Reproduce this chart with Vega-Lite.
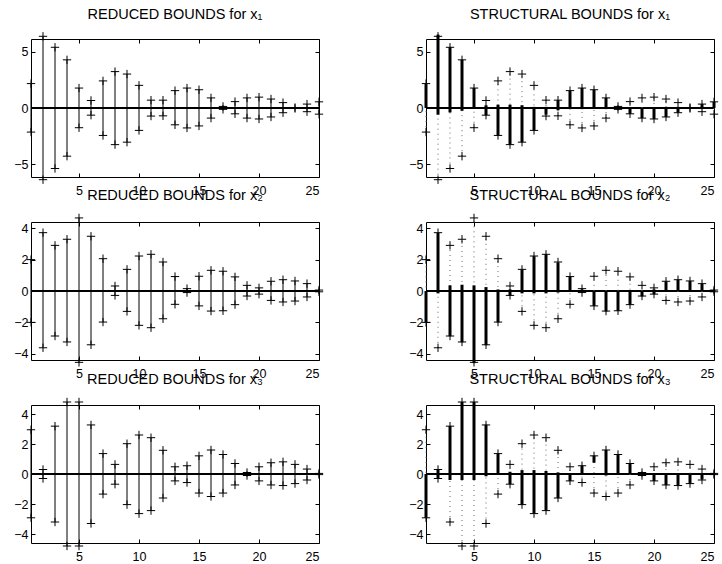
{
"$schema": "https://vega.github.io/schema/vega-lite/v6.json",
"padding": {"left": 13, "top": 6, "right": 2, "bottom": 2},
"background": "white",
"config": {
  "view": {"stroke": "black", "strokeWidth": 1},
  "axis": {"domain": false, "grid": false, "tickSize": -4, "tickColor": "black", "labelPadding": 7, "labelFont": "Liberation Sans", "labelFontSize": 12.5, "labelColor": "black", "title": null},
  "axisBottom": {"labelPadding": 11},
  "title": {"font": "Liberation Sans", "fontSize": 14.5, "fontWeight": "normal", "color": "black", "baseline": "alphabetic", "offset": 8, "anchor": "middle", "frame": "group"}
},
"datasets": {"d": [
{"v":"x1","k":1,"rl":-2.15,"ru":2.18,"sl":0,"su":2.15},
{"v":"x1","k":2,"rl":-6.4,"ru":6.4,"sl":-0.6,"su":6.55},
{"v":"x1","k":3,"rl":-5.4,"ru":5.42,"sl":-0.4,"su":5.42},
{"v":"x1","k":4,"rl":-4.3,"ru":4.3,"sl":-0.25,"su":4.3},
{"v":"x1","k":5,"rl":-1.76,"ru":1.78,"sl":0,"su":1.78},
{"v":"x1","k":6,"rl":-0.64,"ru":0.67,"sl":-0.65,"su":0.25},
{"v":"x1","k":7,"rl":-2.45,"ru":2.42,"sl":-2.45,"su":0.3},
{"v":"x1","k":8,"rl":-3.27,"ru":3.25,"sl":-3.27,"su":0.3},
{"v":"x1","k":9,"rl":-3.05,"ru":3.03,"sl":-3.05,"su":0.25},
{"v":"x1","k":10,"rl":-2.0,"ru":2.02,"sl":-2.0,"su":0.1},
{"v":"x1","k":11,"rl":-0.72,"ru":0.7,"sl":-0.6,"su":0.1},
{"v":"x1","k":12,"rl":-0.7,"ru":0.7,"sl":-0.2,"su":0.7},
{"v":"x1","k":13,"rl":-1.5,"ru":1.55,"sl":0,"su":1.55},
{"v":"x1","k":14,"rl":-1.78,"ru":1.78,"sl":-0.1,"su":1.78},
{"v":"x1","k":15,"rl":-1.6,"ru":1.63,"sl":0,"su":1.63},
{"v":"x1","k":16,"rl":-0.9,"ru":0.9,"sl":-0.1,"su":0.9},
{"v":"x1","k":17,"rl":-0.12,"ru":0.14,"sl":-0.12,"su":0.14},
{"v":"x1","k":18,"rl":-0.52,"ru":0.57,"sl":-0.52,"su":0.05},
{"v":"x1","k":19,"rl":-0.9,"ru":0.9,"sl":-0.9,"su":0},
{"v":"x1","k":20,"rl":-0.98,"ru":0.97,"sl":-0.98,"su":0},
{"v":"x1","k":21,"rl":-0.8,"ru":0.8,"sl":-0.8,"su":0},
{"v":"x1","k":22,"rl":-0.42,"ru":0.48,"sl":-0.4,"su":0.1},
{"v":"x1","k":23,"rl":-0.04,"ru":0.04,"sl":-0.04,"su":0.04},
{"v":"x1","k":24,"rl":-0.33,"ru":0.35,"sl":-0.1,"su":0.35},
{"v":"x1","k":25,"rl":-0.55,"ru":0.55,"sl":0,"su":0.55},
{"v":"x2","k":1,"rl":-2.0,"ru":2.0,"sl":-2.0,"su":0},
{"v":"x2","k":2,"rl":-3.62,"ru":3.72,"sl":-0.15,"su":3.7},
{"v":"x2","k":3,"rl":-2.87,"ru":2.91,"sl":-2.88,"su":0.36},
{"v":"x2","k":4,"rl":-3.25,"ru":3.3,"sl":-3.27,"su":0.4},
{"v":"x2","k":5,"rl":-4.55,"ru":4.66,"sl":-4.6,"su":0.36},
{"v":"x2","k":6,"rl":-3.43,"ru":3.49,"sl":-3.45,"su":0.25},
{"v":"x2","k":7,"rl":-1.98,"ru":2.06,"sl":-2.0,"su":0.1},
{"v":"x2","k":8,"rl":-0.28,"ru":0.32,"sl":-0.3,"su":0.1},
{"v":"x2","k":9,"rl":-1.3,"ru":1.38,"sl":-0.15,"su":1.36},
{"v":"x2","k":10,"rl":-2.19,"ru":2.23,"sl":-0.15,"su":2.22},
{"v":"x2","k":11,"rl":-2.34,"ru":2.34,"sl":-0.15,"su":2.34},
{"v":"x2","k":12,"rl":-1.77,"ru":1.85,"sl":-0.1,"su":1.82},
{"v":"x2","k":13,"rl":-0.85,"ru":0.92,"sl":0,"su":0.9},
{"v":"x2","k":14,"rl":-0.1,"ru":0.15,"sl":-0.1,"su":0.1},
{"v":"x2","k":15,"rl":-0.95,"ru":0.94,"sl":-0.95,"su":0},
{"v":"x2","k":16,"rl":-1.28,"ru":1.32,"sl":-1.3,"su":0},
{"v":"x2","k":17,"rl":-1.26,"ru":1.26,"sl":-1.26,"su":0},
{"v":"x2","k":18,"rl":-0.87,"ru":0.9,"sl":-0.88,"su":0},
{"v":"x2","k":19,"rl":-0.32,"ru":0.36,"sl":-0.34,"su":0},
{"v":"x2","k":20,"rl":-0.2,"ru":0.2,"sl":-0.2,"su":0.1},
{"v":"x2","k":21,"rl":-0.6,"ru":0.62,"sl":0,"su":0.61},
{"v":"x2","k":22,"rl":-0.7,"ru":0.72,"sl":0,"su":0.71},
{"v":"x2","k":23,"rl":-0.64,"ru":0.64,"sl":0,"su":0.64},
{"v":"x2","k":24,"rl":-0.38,"ru":0.47,"sl":0,"su":0.45},
{"v":"x2","k":25,"rl":-0.05,"ru":0.06,"sl":-0.05,"su":0.06},
{"v":"x3","k":1,"rl":-2.92,"ru":2.95,"sl":-2.92,"su":0},
{"v":"x3","k":2,"rl":-0.3,"ru":0.3,"sl":-0.3,"su":0.3},
{"v":"x3","k":3,"rl":-3.2,"ru":3.19,"sl":-0.4,"su":3.2},
{"v":"x3","k":4,"rl":-4.8,"ru":4.8,"sl":-0.4,"su":4.8},
{"v":"x3","k":5,"rl":-4.8,"ru":4.8,"sl":-0.4,"su":4.8},
{"v":"x3","k":6,"rl":-3.3,"ru":3.27,"sl":-0.15,"su":3.28},
{"v":"x3","k":7,"rl":-1.34,"ru":1.36,"sl":0,"su":1.36},
{"v":"x3","k":8,"rl":-0.68,"ru":0.64,"sl":-0.67,"su":0.15},
{"v":"x3","k":9,"rl":-2.04,"ru":2.02,"sl":-2.04,"su":0.26},
{"v":"x3","k":10,"rl":-2.64,"ru":2.6,"sl":-2.63,"su":0.26},
{"v":"x3","k":11,"rl":-2.44,"ru":2.42,"sl":-2.43,"su":0.2},
{"v":"x3","k":12,"rl":-1.6,"ru":1.58,"sl":-1.6,"su":0.1},
{"v":"x3","k":13,"rl":-0.46,"ru":0.48,"sl":-0.47,"su":0},
{"v":"x3","k":14,"rl":-0.57,"ru":0.55,"sl":0,"su":0.56},
{"v":"x3","k":15,"rl":-1.27,"ru":1.21,"sl":0.75,"su":1.22},
{"v":"x3","k":16,"rl":-1.5,"ru":1.6,"sl":-0.1,"su":1.6},
{"v":"x3","k":17,"rl":-1.27,"ru":1.3,"sl":0,"su":1.3},
{"v":"x3","k":18,"rl":-0.73,"ru":0.7,"sl":0,"su":0.72},
{"v":"x3","k":19,"rl":-0.1,"ru":0.1,"sl":-0.1,"su":0.1},
{"v":"x3","k":20,"rl":-0.46,"ru":0.48,"sl":-0.47,"su":0},
{"v":"x3","k":21,"rl":-0.73,"ru":0.75,"sl":-0.74,"su":0},
{"v":"x3","k":22,"rl":-0.77,"ru":0.81,"sl":-0.79,"su":0},
{"v":"x3","k":23,"rl":-0.64,"ru":0.64,"sl":-0.64,"su":0},
{"v":"x3","k":24,"rl":-0.4,"ru":0.33,"sl":-0.36,"su":0},
{"v":"x3","k":25,"rl":-0.04,"ru":0.04,"sl":-0.04,"su":0.04}
]},
"columns": 2,
"bounds": "flush",
"spacing": {"row": 45, "column": 107},
"concat": [
{"width": 288, "height": 138, "title": "REDUCED BOUNDS for x₁", "data": {"name": "d"}, "transform": [{"filter": "datum.v == 'x1'"}],
 "layer": [
  {"mark": {"type": "rule", "color": "black", "strokeWidth": 1.5}, "encoding": {"y": {"datum": 0, "type": "quantitative", "scale": {"domain": [-6.16, 6.16], "nice": false, "zero": false}, "axis": {"orient": "left", "values": [-5, 0, 5]}}}},
  {"mark": {"type": "rule", "color": "black", "strokeWidth": 1}, "encoding": {"x": {"field": "k", "type": "quantitative", "scale": {"domain": [1, 25], "nice": false, "zero": false}, "axis": {"orient": "bottom", "values": [5, 10, 15, 20, 25]}}, "y": {"field": "rl", "type": "quantitative", "scale": {"domain": [-6.16, 6.16], "nice": false, "zero": false}, "axis": {"orient": "right", "labels": false, "values": [-5, 0, 5]}}, "y2": {"field": "ru"}}},
  {"mark": {"type": "point", "shape": "M-1,0L1,0M0,-1L0,1", "filled": false, "stroke": "black", "strokeWidth": 1, "size": 70, "opacity": 1}, "encoding": {"x": {"field": "k", "type": "quantitative", "scale": {"domain": [1, 25], "nice": false, "zero": false}, "axis": {"orient": "top", "labels": false, "values": [5, 10, 15, 20, 25]}}, "y": {"field": "ru", "type": "quantitative", "scale": {"domain": [-6.16, 6.16], "nice": false, "zero": false}, "axis": null}}},
  {"mark": {"type": "point", "shape": "M-1,0L1,0M0,-1L0,1", "filled": false, "stroke": "black", "strokeWidth": 1, "size": 70, "opacity": 1}, "encoding": {"x": {"field": "k", "type": "quantitative", "axis": null}, "y": {"field": "rl", "type": "quantitative", "axis": null}}}
 ]},
{"width": 288, "height": 138, "title": "STRUCTURAL BOUNDS for x₁", "data": {"name": "d"}, "transform": [{"filter": "datum.v == 'x1'"}],
 "layer": [
  {"mark": {"type": "rule", "color": "black", "strokeWidth": 1.5}, "encoding": {"y": {"datum": 0, "type": "quantitative", "scale": {"domain": [-6.16, 6.16], "nice": false, "zero": false}, "axis": {"orient": "left", "values": [-5, 0, 5]}}}},
  {"mark": {"type": "rule", "color": "#666666", "strokeWidth": 1, "strokeDash": [1, 4]}, "encoding": {"x": {"field": "k", "type": "quantitative", "scale": {"domain": [1, 25], "nice": false, "zero": false}, "axis": {"orient": "bottom", "values": [5, 10, 15, 20, 25]}}, "y": {"field": "rl", "type": "quantitative", "scale": {"domain": [-6.16, 6.16], "nice": false, "zero": false}, "axis": {"orient": "right", "labels": false, "values": [-5, 0, 5]}}, "y2": {"field": "ru"}}},
  {"mark": {"type": "rule", "color": "black", "strokeWidth": 3}, "encoding": {"x": {"field": "k", "type": "quantitative", "axis": null}, "y": {"field": "sl", "type": "quantitative", "axis": null}, "y2": {"field": "su"}}},
  {"mark": {"type": "point", "shape": "M-1,0L1,0M0,-1L0,1", "filled": false, "stroke": "black", "strokeWidth": 1, "size": 70, "opacity": 1}, "encoding": {"x": {"field": "k", "type": "quantitative", "scale": {"domain": [1, 25], "nice": false, "zero": false}, "axis": {"orient": "top", "labels": false, "values": [5, 10, 15, 20, 25]}}, "y": {"field": "ru", "type": "quantitative", "scale": {"domain": [-6.16, 6.16], "nice": false, "zero": false}, "axis": null}}},
  {"mark": {"type": "point", "shape": "M-1,0L1,0M0,-1L0,1", "filled": false, "stroke": "black", "strokeWidth": 1, "size": 70, "opacity": 1}, "encoding": {"x": {"field": "k", "type": "quantitative", "axis": null}, "y": {"field": "rl", "type": "quantitative", "axis": null}}}
 ]},
{"width": 288, "height": 138, "title": "REDUCED BOUNDS for x₂", "data": {"name": "d"}, "transform": [{"filter": "datum.v == 'x2'"}],
 "layer": [
  {"mark": {"type": "rule", "color": "black", "strokeWidth": 1.5}, "encoding": {"y": {"datum": 0, "type": "quantitative", "scale": {"domain": [-4.4, 4.4], "nice": false, "zero": false}, "axis": {"orient": "left", "values": [-4, -2, 0, 2, 4]}}}},
  {"mark": {"type": "rule", "color": "black", "strokeWidth": 1}, "encoding": {"x": {"field": "k", "type": "quantitative", "scale": {"domain": [1, 25], "nice": false, "zero": false}, "axis": {"orient": "bottom", "values": [5, 10, 15, 20, 25]}}, "y": {"field": "rl", "type": "quantitative", "scale": {"domain": [-4.4, 4.4], "nice": false, "zero": false}, "axis": {"orient": "right", "labels": false, "values": [-4, -2, 0, 2, 4]}}, "y2": {"field": "ru"}}},
  {"mark": {"type": "point", "shape": "M-1,0L1,0M0,-1L0,1", "filled": false, "stroke": "black", "strokeWidth": 1, "size": 70, "opacity": 1}, "encoding": {"x": {"field": "k", "type": "quantitative", "scale": {"domain": [1, 25], "nice": false, "zero": false}, "axis": {"orient": "top", "labels": false, "values": [5, 10, 15, 20, 25]}}, "y": {"field": "ru", "type": "quantitative", "scale": {"domain": [-4.4, 4.4], "nice": false, "zero": false}, "axis": null}}},
  {"mark": {"type": "point", "shape": "M-1,0L1,0M0,-1L0,1", "filled": false, "stroke": "black", "strokeWidth": 1, "size": 70, "opacity": 1}, "encoding": {"x": {"field": "k", "type": "quantitative", "axis": null}, "y": {"field": "rl", "type": "quantitative", "axis": null}}}
 ]},
{"width": 288, "height": 138, "title": "STRUCTURAL BOUNDS for x₂", "data": {"name": "d"}, "transform": [{"filter": "datum.v == 'x2'"}],
 "layer": [
  {"mark": {"type": "rule", "color": "black", "strokeWidth": 1.5}, "encoding": {"y": {"datum": 0, "type": "quantitative", "scale": {"domain": [-4.4, 4.4], "nice": false, "zero": false}, "axis": {"orient": "left", "values": [-4, -2, 0, 2, 4]}}}},
  {"mark": {"type": "rule", "color": "#666666", "strokeWidth": 1, "strokeDash": [1, 4]}, "encoding": {"x": {"field": "k", "type": "quantitative", "scale": {"domain": [1, 25], "nice": false, "zero": false}, "axis": {"orient": "bottom", "values": [5, 10, 15, 20, 25]}}, "y": {"field": "rl", "type": "quantitative", "scale": {"domain": [-4.4, 4.4], "nice": false, "zero": false}, "axis": {"orient": "right", "labels": false, "values": [-4, -2, 0, 2, 4]}}, "y2": {"field": "ru"}}},
  {"mark": {"type": "rule", "color": "black", "strokeWidth": 3}, "encoding": {"x": {"field": "k", "type": "quantitative", "axis": null}, "y": {"field": "sl", "type": "quantitative", "axis": null}, "y2": {"field": "su"}}},
  {"mark": {"type": "point", "shape": "M-1,0L1,0M0,-1L0,1", "filled": false, "stroke": "black", "strokeWidth": 1, "size": 70, "opacity": 1}, "encoding": {"x": {"field": "k", "type": "quantitative", "scale": {"domain": [1, 25], "nice": false, "zero": false}, "axis": {"orient": "top", "labels": false, "values": [5, 10, 15, 20, 25]}}, "y": {"field": "ru", "type": "quantitative", "scale": {"domain": [-4.4, 4.4], "nice": false, "zero": false}, "axis": null}}},
  {"mark": {"type": "point", "shape": "M-1,0L1,0M0,-1L0,1", "filled": false, "stroke": "black", "strokeWidth": 1, "size": 70, "opacity": 1}, "encoding": {"x": {"field": "k", "type": "quantitative", "axis": null}, "y": {"field": "rl", "type": "quantitative", "axis": null}}}
 ]},
{"width": 288, "height": 138, "title": "REDUCED BOUNDS for x₃", "data": {"name": "d"}, "transform": [{"filter": "datum.v == 'x3'"}],
 "layer": [
  {"mark": {"type": "rule", "color": "black", "strokeWidth": 1.5}, "encoding": {"y": {"datum": 0, "type": "quantitative", "scale": {"domain": [-4.6, 4.6], "nice": false, "zero": false}, "axis": {"orient": "left", "values": [-4, -2, 0, 2, 4]}}}},
  {"mark": {"type": "rule", "color": "black", "strokeWidth": 1}, "encoding": {"x": {"field": "k", "type": "quantitative", "scale": {"domain": [1, 25], "nice": false, "zero": false}, "axis": {"orient": "bottom", "values": [5, 10, 15, 20, 25]}}, "y": {"field": "rl", "type": "quantitative", "scale": {"domain": [-4.6, 4.6], "nice": false, "zero": false}, "axis": {"orient": "right", "labels": false, "values": [-4, -2, 0, 2, 4]}}, "y2": {"field": "ru"}}},
  {"mark": {"type": "point", "shape": "M-1,0L1,0M0,-1L0,1", "filled": false, "stroke": "black", "strokeWidth": 1, "size": 70, "opacity": 1}, "encoding": {"x": {"field": "k", "type": "quantitative", "scale": {"domain": [1, 25], "nice": false, "zero": false}, "axis": {"orient": "top", "labels": false, "values": [5, 10, 15, 20, 25]}}, "y": {"field": "ru", "type": "quantitative", "scale": {"domain": [-4.6, 4.6], "nice": false, "zero": false}, "axis": null}}},
  {"mark": {"type": "point", "shape": "M-1,0L1,0M0,-1L0,1", "filled": false, "stroke": "black", "strokeWidth": 1, "size": 70, "opacity": 1}, "encoding": {"x": {"field": "k", "type": "quantitative", "axis": null}, "y": {"field": "rl", "type": "quantitative", "axis": null}}}
 ]},
{"width": 288, "height": 138, "title": "STRUCTURAL BOUNDS for x₃", "data": {"name": "d"}, "transform": [{"filter": "datum.v == 'x3'"}],
 "layer": [
  {"mark": {"type": "rule", "color": "black", "strokeWidth": 1.5}, "encoding": {"y": {"datum": 0, "type": "quantitative", "scale": {"domain": [-4.6, 4.6], "nice": false, "zero": false}, "axis": {"orient": "left", "values": [-4, -2, 0, 2, 4]}}}},
  {"mark": {"type": "rule", "color": "#666666", "strokeWidth": 1, "strokeDash": [1, 4]}, "encoding": {"x": {"field": "k", "type": "quantitative", "scale": {"domain": [1, 25], "nice": false, "zero": false}, "axis": {"orient": "bottom", "values": [5, 10, 15, 20, 25]}}, "y": {"field": "rl", "type": "quantitative", "scale": {"domain": [-4.6, 4.6], "nice": false, "zero": false}, "axis": {"orient": "right", "labels": false, "values": [-4, -2, 0, 2, 4]}}, "y2": {"field": "ru"}}},
  {"mark": {"type": "rule", "color": "black", "strokeWidth": 3}, "encoding": {"x": {"field": "k", "type": "quantitative", "axis": null}, "y": {"field": "sl", "type": "quantitative", "axis": null}, "y2": {"field": "su"}}},
  {"mark": {"type": "point", "shape": "M-1,0L1,0M0,-1L0,1", "filled": false, "stroke": "black", "strokeWidth": 1, "size": 70, "opacity": 1}, "encoding": {"x": {"field": "k", "type": "quantitative", "scale": {"domain": [1, 25], "nice": false, "zero": false}, "axis": {"orient": "top", "labels": false, "values": [5, 10, 15, 20, 25]}}, "y": {"field": "ru", "type": "quantitative", "scale": {"domain": [-4.6, 4.6], "nice": false, "zero": false}, "axis": null}}},
  {"mark": {"type": "point", "shape": "M-1,0L1,0M0,-1L0,1", "filled": false, "stroke": "black", "strokeWidth": 1, "size": 70, "opacity": 1}, "encoding": {"x": {"field": "k", "type": "quantitative", "axis": null}, "y": {"field": "rl", "type": "quantitative", "axis": null}}}
 ]}
]
}
